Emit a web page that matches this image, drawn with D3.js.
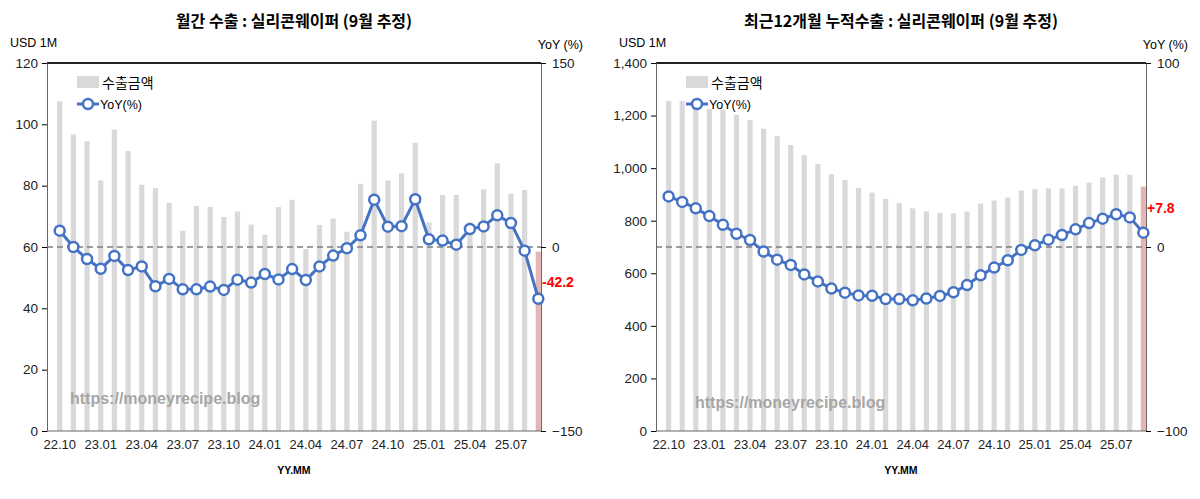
<!DOCTYPE html>
<html><head><meta charset="utf-8">
<script src="https://cdn.jsdelivr.net/npm/d3@7"></script>
<style>
body{margin:0;background:#fff;font-family:"Noto Sans CJK KR","Noto Sans",sans-serif;}
</style></head>
<body><div id="chart"></div>
<script>
// 월 라벨 (22.10 ~ 25.09)
const months = [];
for (let i = 0; i < 36; i++){
  const m = (9 + i) % 12 + 1, y = 22 + Math.floor((9 + i) / 12);
  months.push(`${y}.${String(m).padStart(2,"0")}`);
}
const tickMonths = months.filter((d,i) => i % 3 === 0);

// 월간 수출
const monthlyExport = [107.5,96.7,94.5,81.7,98.3,91.3,80.3,79.2,74.4,65.3,73.4,73.1,69.8,71.6,67.3,64,73,75.4,59.3,67.2,69.3,65,80.6,101.2,81.7,84,94,68,77,77,68,78.8,87.3,77.4,78.6,58.5];
const monthlyYoY = [13.3,0,-9.8,-17.7,-7.3,-18.8,-15.8,-32,-26,-34.5,-34.5,-32.3,-35,-26.6,-29,-22,-26.4,-18,-27,-15.8,-7,-1,9.5,38.6,16.6,17,38.9,6.3,5.2,1.9,14.7,16.8,25.8,19.6,-3,-42.2];

// 최근 12개월 누적
const cumExport = [1255,1255,1240,1225,1222,1203,1183,1150,1122,1088,1050,1015,977,955,925,907,883,867,847,836,830,828,835,865,877,888,915,920,923,923,933,945,965,975,975,930];
const cumYoY = [27.5,24.5,21,16.8,12.1,7.2,3.8,-2.5,-6.9,-9.8,-14.9,-18.7,-22.6,-24.8,-26.3,-26.5,-28.3,-28.3,-29,-28,-26.6,-24.6,-20.7,-15.4,-11.2,-7.2,-1.6,0.9,4,6.5,9.6,13,15.4,17.8,16.1,7.8];

const svg = d3.select("#chart").append("svg").attr("width",1200).attr("height",499);
const num = "Liberation Sans, Arial, sans-serif";

function panel(o){
  const g = svg.append("g");
  const x = d3.scaleBand().domain(months).range([o.x0 + 6, o.x1 + 4]).paddingInner(0.62).paddingOuter(0.3);
  const y = d3.scaleLinear().domain(o.yDom).range([431, 63]);
  const y2 = d3.scaleLinear().domain(o.y2Dom).range([431, 63]);

  g.append("text").attr("x",(o.x0+o.x1)/2).attr("y",27).attr("text-anchor","middle")
    .attr("font-size",16).attr("font-weight",700).text(o.title);
  g.append("text").attr("x",o.x0-37).attr("y",47).attr("font-size",12.5).attr("font-family",num).text("USD 1M");
  g.append("text").attr("x",o.x1+42).attr("y",49).attr("text-anchor","end").attr("font-size",12.5).attr("font-family",num).text("YoY (%)");

  g.append("g").selectAll("rect").data(o.bars).join("rect")
    .attr("x",(d,i)=>x(months[i])).attr("width",x.bandwidth())
    .attr("y",d=>y(d)).attr("height",d=>431-y(d))
    .attr("fill",(d,i)=> i===o.bars.length-1 ? "#e6b4b4" : "#d9d9d9");

  g.append("line").attr("x1",o.x0).attr("x2",o.x1).attr("y1",y2(0)).attr("y2",y2(0))
    .attr("stroke","#7f7f7f").attr("stroke-width",1.3).attr("stroke-dasharray","6,4");

  // frame
  g.append("line").attr("x1",o.x0).attr("x2",o.x1).attr("y1",63).attr("y2",63).attr("stroke","#222").attr("stroke-width",2);
  const ax = g.append("g").attr("transform","translate(0,431)")
    .call(d3.axisBottom(x).tickValues(tickMonths).tickSize(0).tickPadding(9));
  ax.select(".domain").attr("d",`M${o.x0},0H${o.x1}`).attr("stroke","#666");
  ax.selectAll("text").attr("font-size",13).attr("font-family",num).attr("fill","#222");
  const al = g.append("g").attr("transform",`translate(${o.x0},0)`)
    .call(d3.axisLeft(y).tickValues(o.yTicks).tickFormat(d3.format(",")).tickSize(5).tickPadding(4));
  al.select(".domain").attr("stroke","#666");
  al.selectAll("text").attr("font-size",13.5).attr("font-family",num).attr("fill","#222");
  const ar = g.append("g").attr("transform",`translate(${o.x1},0)`)
    .call(d3.axisRight(y2).tickValues(o.y2Ticks).tickSize(5).tickPadding(6));
  ar.select(".domain").attr("stroke","#666");
  ar.selectAll("text").attr("font-size",13.5).attr("font-family",num).attr("fill","#222");

  g.append("text").attr("x",(o.x0+o.x1)/2).attr("y",474).attr("text-anchor","middle")
    .attr("font-size",10.5).attr("font-weight",700).attr("font-family",num).text("YY.MM");

  // line
  const cx = (d,i)=> x(months[i]) + x.bandwidth()/2;
  g.append("path").datum(o.yoy)
    .attr("d", d3.line().x(cx).y(d=>y2(d)))
    .attr("fill","none").attr("stroke","#4472c4").attr("stroke-width",3);
  g.append("g").selectAll("circle").data(o.yoy).join("circle")
    .attr("cx",cx).attr("cy",d=>y2(d)).attr("r",5)
    .attr("fill","#fff").attr("stroke","#4472c4").attr("stroke-width",2.5);

  const last = o.yoy[o.yoy.length-1];
  g.append("text").attr("x",o.x1+1).attr("y",y2(last)+o.lblDy).attr("font-size",14).attr("font-weight",700)
    .attr("fill","#ff0000").attr("font-family",num)
    .text((last>0?"+":"")+last.toFixed(1));

  // legend
  g.append("rect").attr("x",o.x0+30).attr("y",76).attr("width",22).attr("height",12).attr("fill","#d9d9d9");
  g.append("text").attr("x",o.x0+55).attr("y",88).attr("font-size",14).text("수출금액");
  g.append("line").attr("x1",o.x0+30).attr("x2",o.x0+52).attr("y1",104).attr("y2",104).attr("stroke","#4472c4").attr("stroke-width",3);
  g.append("circle").attr("cx",o.x0+41).attr("cy",104).attr("r",5).attr("fill","#fff").attr("stroke","#4472c4").attr("stroke-width",2.5);
  g.append("text").attr("x",o.x0+53).attr("y",109).attr("font-size",12.5).attr("font-family",num).text("YoY(%)");

  g.append("text").attr("x",o.wmX).attr("y",o.wmY).attr("font-size",16).attr("font-weight",700)
    .attr("fill","#a6a6a6").attr("font-family",num).text("https://moneyrecipe.blog");
}

panel({x0:47,x1:541,title:"월간 수출 : 실리콘웨이퍼 (9월 추정)",yDom:[0,120],yTicks:d3.range(0,121,20),
  y2Dom:[-150,150],y2Ticks:[-150,0,150],bars:monthlyExport,yoy:monthlyYoY,lblDy:-12,wmX:70,wmY:404});
panel({x0:656,x1:1146,title:"최근12개월 누적수출 : 실리콘웨이퍼 (9월 추정)",yDom:[0,1400],yTicks:d3.range(0,1401,200),
  y2Dom:[-100,100],y2Ticks:[-100,0,100],bars:cumExport,yoy:cumYoY,lblDy:-20,wmX:695,wmY:408});
</script></body></html>
